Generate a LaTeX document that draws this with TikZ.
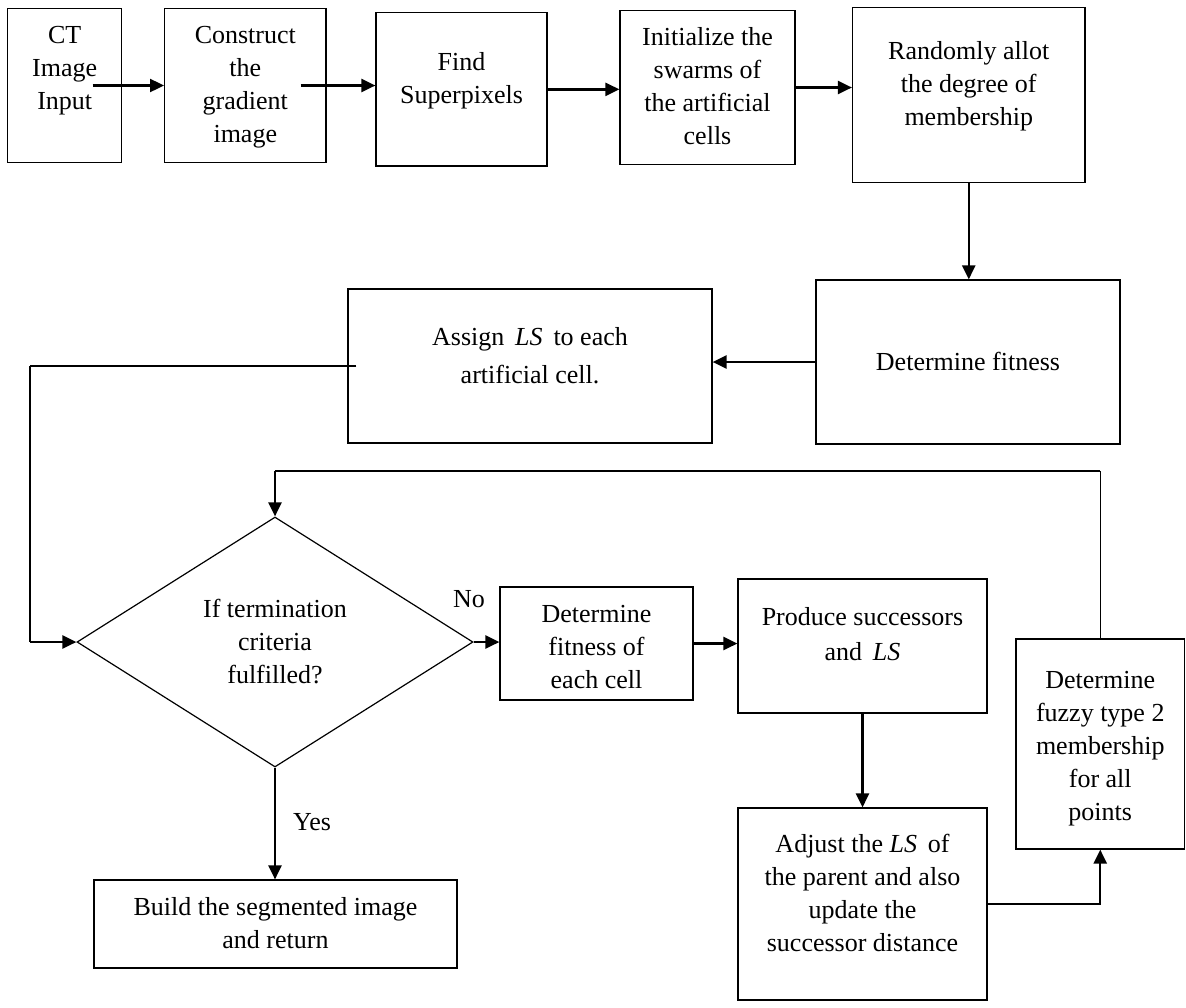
\documentclass[tikz,border=0pt]{standalone}
\usepackage{fontspec}
\setmainfont{Liberation Serif}
\usetikzlibrary{arrows.meta, shapes.geometric}

\begin{document}
\begin{tikzpicture}[x=0.5pt, y=-0.5pt,
        every node/.style={font=\fontsize{13}{16.5}\selectfont},
        box/.style={rectangle, draw, line width=0.6pt, inner sep=0pt},
        decision/.style={diamond, draw, line width=0.6pt, inner sep=0pt, align=center, minimum width=198pt, minimum height=125pt},
        arr/.style={line width=1.2pt, -{Triangle[length=7pt, width=6.5pt]}},
        link/.style={line width=1.2pt},
        thinlink/.style={line width=0.6pt}
    ]
    \useasboundingbox (0,0) rectangle (1186,1007);

    % top row
    \node[box] (ct) at (64.7,85.5) {\parbox[c][77.2pt][t]{57pt}{\centering\vspace*{5.8pt}\strut CT\\Image\\Input}};
    \node[box] (construct) at (245.3,85.5) {\parbox[c][77.2pt][t]{80.7pt}{\centering\vspace*{5.8pt}\strut Construct\\the\\gradient\\image}};
    \node[box] (find) at (461.5,89.35) {\parbox[c][76.65pt][t]{85.5pt}{\centering\vspace*{17.1pt}\strut Find\\Superpixels}};
    \node[box] (init) at (707.5,87.5) {\parbox[c][76.8pt][t]{87.5pt}{\centering\vspace*{5.6pt}\strut Initialize the\\swarms of\\the artificial\\cells}};
    \node[box] (random) at (968.75,95) {\parbox[c][87.7pt][t]{116.25pt}{\centering\vspace*{14.3pt}\strut Randomly allot\\the degree of\\membership}};

    % second row
    \node[box] (fitness) at (968,362) {\parbox[c][82pt][t]{152pt}{\centering\vspace*{33.45pt}\strut Determine fitness}};
    \node[box] (assign) at (530,366) {\parbox[c][77pt][t]{182pt}{\centering\vspace*{16.45pt}\strut Assign \,\textit{LS}\, to each\\[2.5pt]artificial cell.}};

    % loop
    \node[decision] (cond) at (275,642) {If termination\\criteria\\fulfilled?};
    \node[box] (each) at (596.5,643.5) {\parbox[c][56.5pt][t]{96.5pt}{\centering\vspace*{5.95pt}\strut Determine\\fitness of\\each cell}};
    \node[box] (produce) at (862.5,646) {\parbox[c][67pt][t]{124.5pt}{\centering\vspace*{11.45pt}\strut Produce successors\\[1pt]and \,\textit{LS}}};
    \node[box] (adjust) at (862.5,904) {\parbox[c][96pt][t]{124.5pt}{\centering\vspace*{10.45pt}\strut Adjust the \textit{LS}\, of\\the parent and also\\update the\\successor distance}};
    \node[box] (fuzzy) at (1100.25,744) {\parbox[c][105pt][t]{84.25pt}{\centering\vspace*{12.95pt}\strut Determine\\fuzzy type 2\\membership\\for all\\points}};
    \node[box] (build) at (275.5,924) {\parbox[c][44pt][t]{181.5pt}{\centering\vspace*{5.95pt}\strut Build the segmented image\\and return}};

    \node[anchor=base] (no) at (469,607) {No};
    \node[anchor=base] (yes) at (312,830) {Yes};

    \coordinate (lft) at (30,0);
    \coordinate (loop) at (1102,471);

    \draw[arr] ([xshift=-14.85pt]ct.east) -- (ct.east -| construct.west);
    \draw[arr] ([xshift=-13pt]construct.east) -- (construct.east -| find.west);
    \draw[arr] (find.east) -- (find.east -| init.west);
    \draw[arr] (init.east) -- (init.east -| random.west);
    \draw[arr] (random.south) -- (random.south |- fitness.north);
    \draw[arr] (fitness.west) -- (fitness.west -| assign.east);
    \draw[link] ([xshift=4.5pt]assign.west) -- (assign.west -| lft);
    \draw[thinlink] (assign.west -| lft) -- (lft |- cond.west);
    \draw[arr] (lft |- cond.west) -- (cond.west);
    \draw[arr] (cond.east) -- (cond.east -| each.west);
    \draw[arr] (each.east) -- (each.east -| produce.west);
    \draw[arr] (produce.south) -- (adjust.north);
    \draw[arr] (adjust.east) -| (fuzzy.south);
    \draw[thinlink] (fuzzy.north) -- (fuzzy.north |- loop);
    \draw[link] (fuzzy.north |- loop) -- (cond.north |- loop);
    \draw[arr] (cond.north |- loop) -- (cond.north);
    \draw[arr] (cond.south) -- (cond.south |- build.north);
\end{tikzpicture}
\end{document}
